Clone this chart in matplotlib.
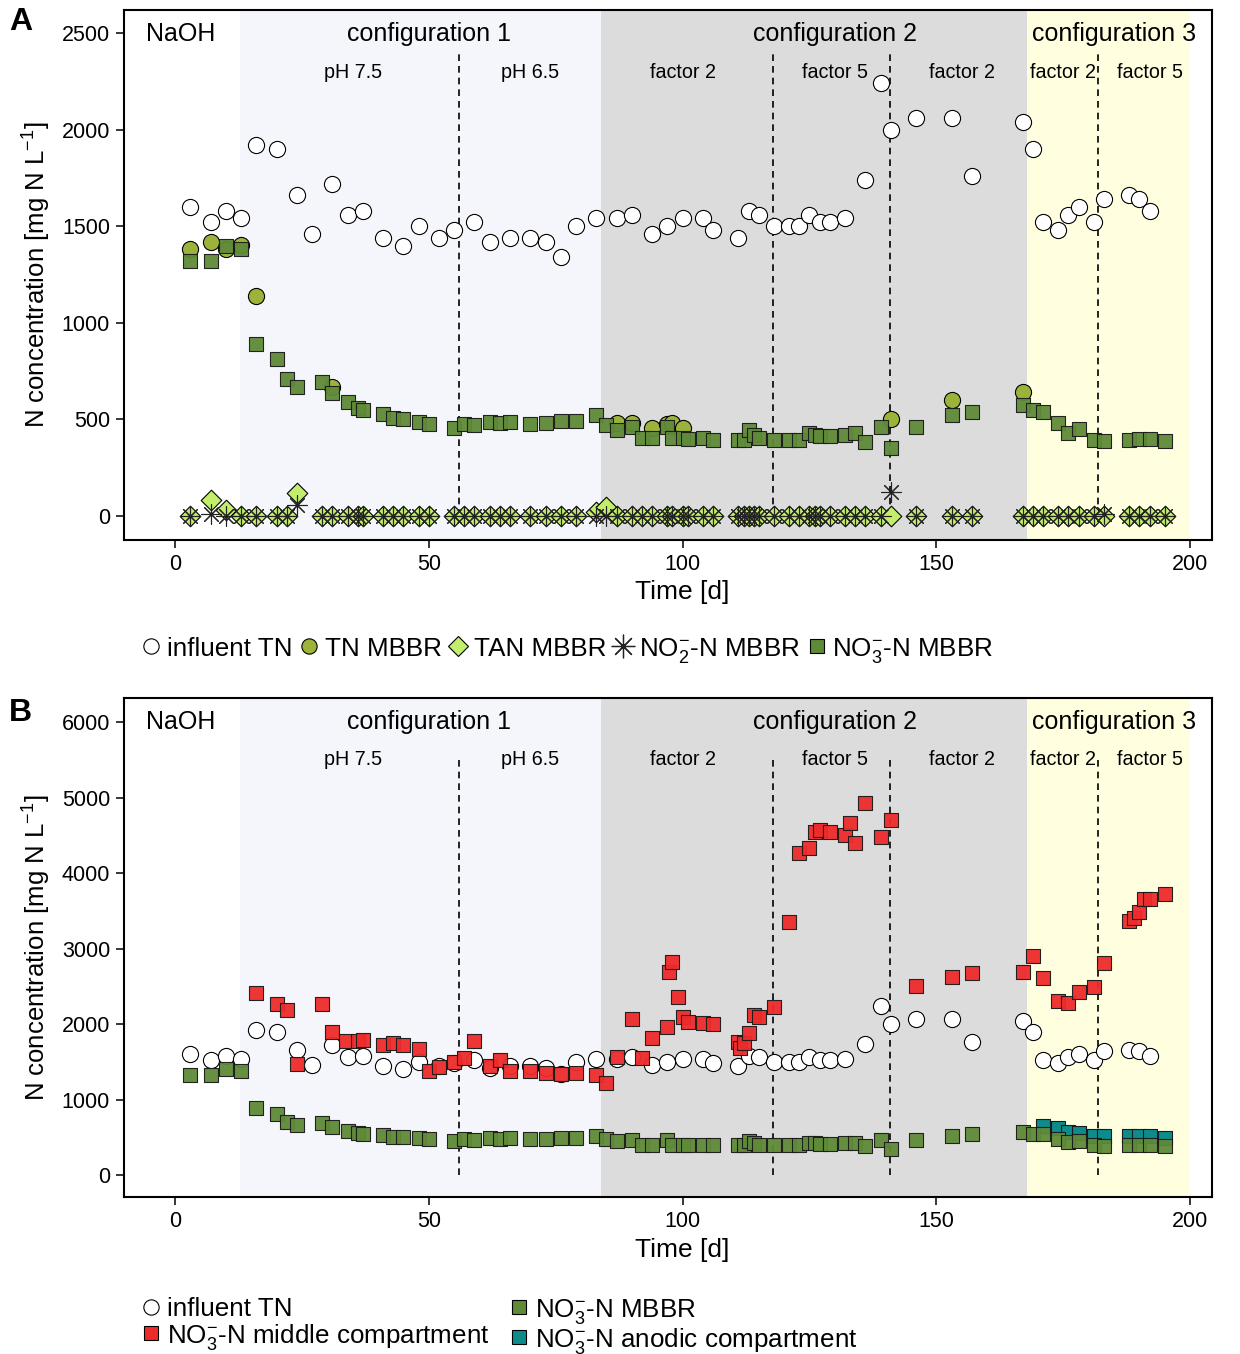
import matplotlib
matplotlib.use("Agg")
import matplotlib.pyplot as plt
from matplotlib.lines import Line2D

plt.rcParams['font.family'] = ['Liberation Sans', 'DejaVu Sans']
plt.rcParams['mathtext.fontset'] = 'custom'
plt.rcParams['mathtext.rm'] = 'Liberation Sans'
plt.rcParams['mathtext.it'] = 'Liberation Sans:italic'

# ---------------- data ----------------
days_inf = [3, 7, 10, 13, 16, 20, 24, 27, 31, 34, 37, 41, 45, 48, 52, 55, 59, 62, 66, 70,
            73, 76, 79, 83, 87, 90, 94, 97, 100, 104, 106, 111, 113, 115, 118, 121, 123, 125,
            127, 129, 132, 136, 139, 141, 146, 153, 157, 167, 169, 171, 174, 176, 178, 181,
            183, 188, 190, 192]
influent_tn = [1600, 1520, 1580, 1540, 1920, 1900, 1660, 1460, 1720, 1560, 1580, 1440, 1400,
               1500, 1440, 1480, 1520, 1420, 1440, 1440, 1420, 1340, 1500, 1540, 1540, 1560,
               1460, 1500, 1540, 1540, 1480, 1440, 1580, 1560, 1500, 1500, 1500, 1560, 1520,
               1520, 1540, 1740, 2240, 2000, 2060, 2060, 1760, 2040, 1900, 1520, 1480, 1560,
               1600, 1520, 1640, 1660, 1640, 1580]

days_tn = [3, 7, 10, 13, 16, 31, 87, 90, 94, 97, 98, 100, 141, 153, 167]
tn_mbbr = [1382, 1420, 1382, 1403, 1140, 666, 480, 480, 458, 475, 480, 455, 500, 600, 643]

days_mbbr = [3, 7, 10, 13, 16, 20, 22, 24, 29, 31, 34, 36, 37, 41, 43, 45, 48, 50, 55, 57,
             59, 62, 64, 66, 70, 73, 76, 79, 83, 85, 87, 90, 92, 94, 97, 98, 100, 101, 104,
             106, 111, 112, 113, 114, 115, 118, 121, 123, 125, 126, 127, 129, 132, 134, 136,
             139, 141, 146, 153, 157, 167, 169, 171, 174, 176, 178, 181, 183, 188, 190, 192, 195]
no3_mbbr = [1320, 1320, 1400, 1382, 890, 813, 707, 669, 695, 635, 588, 557, 549, 528, 509,
            500, 485, 478, 454, 476, 469, 485, 481, 485, 478, 483, 490, 493, 521, 471, 445,
            462, 402, 402, 462, 402, 402, 400, 402, 393, 393, 393, 445, 419, 402, 393, 393,
            393, 429, 419, 415, 415, 419, 429, 385, 462, 350, 462, 523, 537, 574, 549, 537,
            483, 431, 450, 393, 388, 393, 397, 397, 390]
tan_mbbr = [0, 83, 30, 0, 0, 0, 0, 121, 0, 0, 0, 0, 0, 0, 0, 0, 0, 0, 0, 0,
            0, 0, 0, 0, 0, 0, 0, 0, 20, 47, 0, 0, 0, 0, 0, 0, 0, 0, 0,
            0, 0, 0, 0, 0, 0, 0, 0, 0, 0, 0, 0, 0, 0, 0, 0,
            0, 0, 0, 0, 0, 0, 0, 0, 0, 0, 0, 0, 0, 0, 0, 0, 0]
no2_mbbr = [0, 10, 0, 0, 0, 0, 0, 57, 0, 0, 0, 0, 0, 0, 0, 0, 0, 0, 0, 0,
            0, 0, 0, 0, 0, 0, 0, 0, 0, 0, 0, 0, 0, 0, 0, 0, 0, 0, 0,
            0, 0, 0, 0, 0, 0, 0, 0, 0, 0, 0, 0, 0, 0, 0, 0,
            0, 124, 0, 0, 0, 0, 0, 0, 0, 0, 0, 0, 10, 0, 0, 0, 0]

days_mid = [16, 20, 22, 24, 29, 31, 33.6, 36, 37, 41, 43, 45, 48, 50, 52, 55, 57, 59, 62, 64,
            66, 70, 73, 76, 79, 83, 85, 87, 90, 92, 94, 97, 97.4, 98, 99, 100, 101, 104, 106,
            111, 111.4, 112, 113, 114, 115, 118, 121, 123, 125, 126, 127, 129, 132, 133, 134,
            136, 139, 141, 146, 153, 157, 167, 169, 171, 174, 176, 178, 181, 183, 188, 189,
            190, 191, 192, 195]
no3_middle = [2406, 2261, 2190, 1474, 2261, 1890, 1775, 1775, 1784, 1718, 1744, 1718, 1665,
              1377, 1435, 1497, 1545, 1770, 1448, 1527, 1377, 1377, 1347, 1334, 1347, 1325,
              1214, 1567, 2066, 1554, 1810, 1965, 2693, 2817, 2353, 2097, 2022, 2009, 1996,
              1766, 1678, 1744, 1877, 2119, 2097, 2230, 3351, 4260, 4327, 4547, 4569, 4539,
              4503, 4658, 4393, 4923, 4472, 4702, 2507, 2618, 2671, 2684, 2896, 2613, 2309,
              2274, 2428, 2494, 2804, 3368, 3400, 3479, 3655, 3655, 3722]

days_anodic = [171, 174, 176, 178, 181, 183, 188, 190, 192, 195]
no3_anodic = [653, 627, 574, 552, 521, 521, 521, 521, 516, 485]

phase_bounds = [12.8, 83.9, 167.9, 200]          # configuration 1 / 2 / 3 periods
dash_days = [56, 117.8, 140.9, 181.9]
top_labels = ["NaOH", "configuration 1", "configuration 2", "configuration 3"]
top_label_x = [-5.8, 50, 130, 185]
sub_labels = ["pH 7.5", "pH 6.5", "factor 2", "factor 5", "factor 2", "factor 2", "factor 5"]
sub_label_x = [35, 70, 100, 130, 155, 175, 192]

# ---------------- styles ----------------
C_LAV = '#F5F6FC'
C_GREY = '#DCDCDC'
C_YEL = '#FFFFE0'
C_TN = '#9BB33A'
C_TAN = '#C2EE6C'
C_NO3 = '#5F8A38'
C_RED = '#EE2B2B'
C_TEAL = '#0E8C8C'
STAR = (8, 2, 0)

fig = plt.figure(figsize=(12.4, 13.54), dpi=100)
axA = fig.add_axes([124/1240, 1-540/1354, (1212-124)/1240, 530/1354])
axB = fig.add_axes([124/1240, 1-1197/1354, (1212-124)/1240, 499/1354])

def decorate(ax, ylim, yticks, dash_top, ytop_frac, ysub_frac, xlabel_y):
    ax.set_xlim(-10.05, 204.3)
    ax.set_ylim(*ylim)
    ax.axvspan(phase_bounds[0], phase_bounds[1], color=C_LAV, lw=0, zorder=0)
    ax.axvspan(phase_bounds[1], phase_bounds[2], color=C_GREY, lw=0, zorder=0)
    ax.axvspan(phase_bounds[2], phase_bounds[3], color=C_YEL, lw=0, zorder=0)
    for d in dash_days:
        ax.plot([d, d], [0, dash_top], ls=(0, (4, 3)), color='black', lw=1.2, zorder=1)
    for t, x in zip(top_labels, top_label_x):
        ax.text(x, ytop_frac, t, transform=ax.get_xaxis_transform(), fontsize=18,
                ha='left' if t == "NaOH" else 'center', va='center', zorder=5)
    for t, x in zip(sub_labels, sub_label_x):
        ax.text(x, ysub_frac, t, transform=ax.get_xaxis_transform(), fontsize=14.2,
                ha='center', va='center', zorder=5)
    ax.set_xticks([0, 50, 100, 150, 200])
    ax.set_yticks(yticks)
    ax.tick_params(direction='out', length=6, width=1.1, labelsize=15.5, pad=4)
    for s in ax.spines.values():
        s.set_linewidth(1.5)
    ax.set_xlabel('Time [d]', fontsize=19)
    ax.xaxis.set_label_coords(0.513, xlabel_y)
    ax.set_ylabel(r'N concentration [mg N L$^{-1}$]', fontsize=18.5, labelpad=6)

decorate(axA, (-124, 2619), [0, 500, 1000, 1500, 2000, 2500], 2400, 0.955, 0.883, -0.076)
decorate(axB, (-291, 6318), [0, 1000, 2000, 3000, 4000, 5000, 6000], 5520, 0.952, 0.876, -0.082)

# ---- panel A ----
axA.scatter(days_inf, influent_tn, s=135, marker='o', facecolor='white', edgecolor='black', lw=0.8, zorder=3)
axA.scatter(days_tn, tn_mbbr, s=135, marker='o', facecolor=C_TN, edgecolor='black', lw=0.8, zorder=3)
axA.scatter(days_mbbr, tan_mbbr, s=110, marker='D', facecolor=C_TAN, edgecolor='black', lw=0.8, zorder=3)
axA.scatter(days_mbbr, no2_mbbr, s=200, marker=STAR, color='#222222', lw=0.8, zorder=3)
axA.scatter(days_mbbr, no3_mbbr, s=115, marker='s', facecolor=C_NO3, edgecolor='#1a1a1a', lw=0.8, alpha=0.95, zorder=4)

# ---- panel B ----
axB.scatter(days_inf, influent_tn, s=135, marker='o', facecolor='white', edgecolor='black', lw=0.8, zorder=3)
axB.scatter(days_anodic, no3_anodic, s=115, marker='s', facecolor=C_TEAL, edgecolor='#1a1a1a', lw=0.8, zorder=3)
axB.scatter(days_mbbr, no3_mbbr, s=115, marker='s', facecolor=C_NO3, edgecolor='#1a1a1a', lw=0.8, alpha=0.95, zorder=4)
axB.scatter(days_mid, no3_middle, s=115, marker='s', facecolor=C_RED, edgecolor='#1a1a1a', lw=0.8, alpha=0.95, zorder=4)

fig.text(9/1240, 1-22/1354, 'A', fontsize=23, fontweight='bold', va='center', ha='left')
fig.text(9/1240, 1-713/1354, 'B', fontsize=23, fontweight='bold', va='center', ha='left')

# ---- legends ----
def h(marker, fc, ec='black', ms=10):
    return Line2D([], [], ls='none', marker=marker, markerfacecolor=fc, markeredgecolor=ec,
                  markersize=ms, markeredgewidth=0.8)

hA = [h('o', 'white', ms=11), h('o', C_TN, ms=11), h('D', C_TAN, ms=10),
      Line2D([], [], ls='none', marker=STAR, color='#222222', markersize=17, markeredgewidth=0.9),
      h('s', C_NO3, ms=10)]
lA = ['influent TN', 'TN MBBR', 'TAN MBBR', r'NO$_2^{-}$-N MBBR', r'NO$_3^{-}$-N MBBR']
fig.legend(hA, lA, loc='center left', bbox_to_anchor=(142/1240, 1-650/1354), ncol=5,
           frameon=False, fontsize=18.7, handlelength=0.7, handletextpad=0.25,
           columnspacing=0.3, borderaxespad=0, borderpad=0)

hB = [h('o', 'white', ms=11), h('s', C_RED, ms=10), h('s', C_NO3, ms=10), h('s', C_TEAL, ms=10)]
lB = ['influent TN', r'NO$_3^{-}$-N middle compartment', r'NO$_3^{-}$-N MBBR',
      r'NO$_3^{-}$-N anodic compartment']
fig.legend(hB, lB, loc='center left', bbox_to_anchor=(142/1240, 1-1326/1354), ncol=2,
           frameon=False, fontsize=18.7, handlelength=0.7, handletextpad=0.25,
           columnspacing=0.8, labelspacing=0.0, borderaxespad=0, borderpad=0)

fig.savefig('out.png', dpi=100)
